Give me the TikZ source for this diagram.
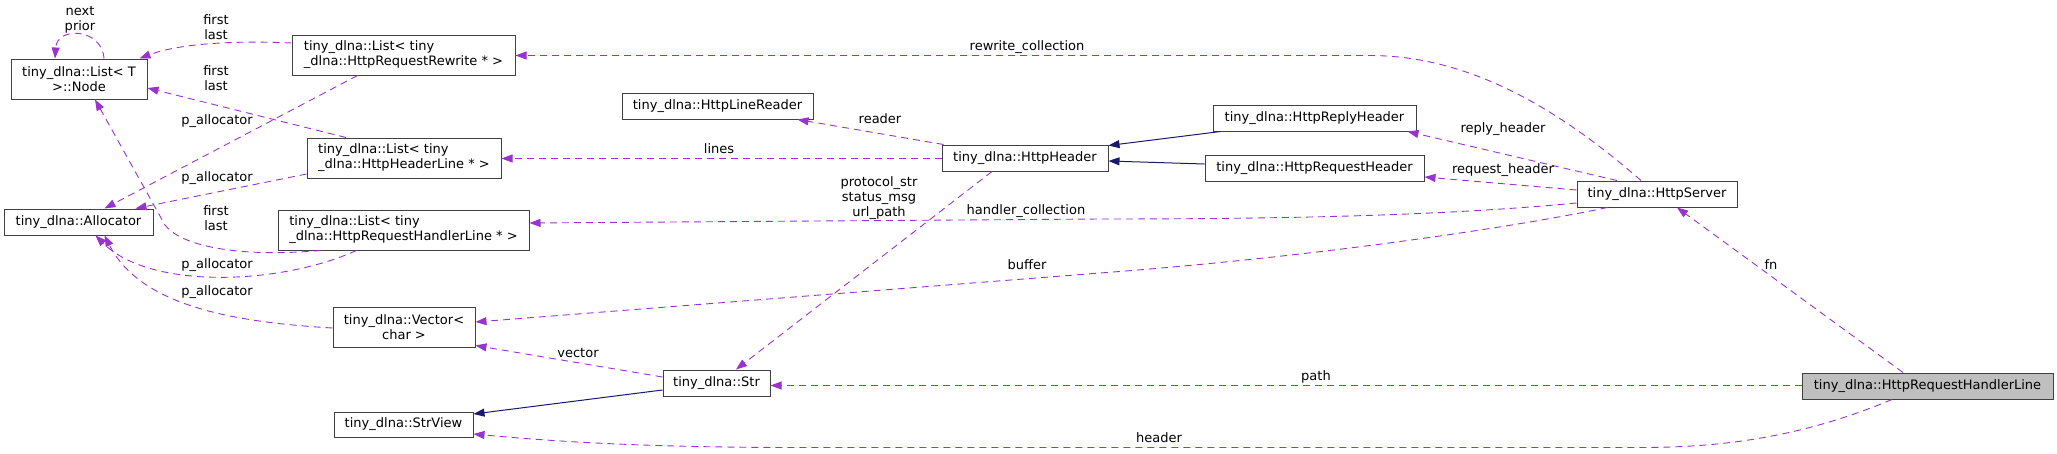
\documentclass[tikz,border=0pt]{standalone}
\usepackage{fontspec}
\setmainfont{DejaVu Sans}
\usetikzlibrary{arrows.meta,calc}
\definecolor{edgep}{HTML}{9A32CD}
\definecolor{inh}{HTML}{191970}
\definecolor{bord}{HTML}{404040}
\definecolor{mainfill}{HTML}{BFBFBF}
\tikzset{
  txt/.style={font=\fontsize{13}{15}\selectfont},
  box/.style={txt, draw=bord, line width=1pt, fill=white, inner sep=0pt, align=center},
  lbox/.style={box, align=left},
  rel/.style={draw=edgep, dash pattern=on 7pt off 5pt, line width=0.9pt, -{Triangle[length=11pt,width=8pt]}},
  inhe/.style={draw=inh, line width=1pt, -{Triangle[length=11pt,width=8pt]}},
  lab/.style={txt, inner sep=0pt, align=center}
}
\begin{document}
\begin{tikzpicture}[x=1pt,y=-1pt]
\useasboundingbox (0,0) rectangle (2057,453);
% nodes
\node[box, minimum width=136pt, minimum height=40pt] (lnode) at (79,79) {tiny\_dlna::List< T\\>::Node};
\node[lbox, minimum width=223pt, minimum height=40pt] (rewrite) at (403.5,55) {tiny\_dlna::List< tiny\\\_dlna::HttpRequestRewrite * >};
\node[lbox, minimum width=194pt, minimum height=40pt] (hline) at (404,158) {tiny\_dlna::List< tiny\\\_dlna::HttpHeaderLine * >};
\node[box, minimum width=149pt, minimum height=26pt] (alloc) at (78.5,222) {tiny\_dlna::Allocator};
\node[lbox, minimum width=251pt, minimum height=40pt] (hlist) at (403.5,230) {tiny\_dlna::List< tiny\\\_dlna::HttpRequestHandlerLine * >};
\node[box, minimum width=142pt, minimum height=40pt] (vector) at (404,327) {tiny\_dlna::Vector<\\char >};
\node[box, minimum width=139pt, minimum height=25pt] (strview) at (403.5,424.5) {tiny\_dlna::StrView};
\node[box, minimum width=107pt, minimum height=26pt] (str) at (716.5,383) {tiny\_dlna::Str};
\node[box, minimum width=191pt, minimum height=26pt] (lreader) at (717.5,106) {tiny\_dlna::HttpLineReader};
\node[box, minimum width=166pt, minimum height=26pt] (hheader) at (1025,158) {tiny\_dlna::HttpHeader};
\node[box, minimum width=203pt, minimum height=26pt] (reply) at (1314.5,118) {tiny\_dlna::HttpReplyHeader};
\node[box, minimum width=219pt, minimum height=26pt] (request) at (1314.5,168) {tiny\_dlna::HttpRequestHeader};
\node[box, minimum width=160pt, minimum height=26pt] (server) at (1657,194) {tiny\_dlna::HttpServer};
\node[box, fill=mainfill, minimum width=251pt, minimum height=26pt] (handler) at (1927.5,386) {tiny\_dlna::HttpRequestHandlerLine};

% self loop
\draw[rel] ($(lnode.north)+(25,0)$) .. controls (102,28) and (57,26) .. ($(lnode.north)+(-24,0)$);
\node[lab] (lbnext) at (80,19.5) {next\\prior};
% first/last from rewrite
\draw[rel] ($(rewrite.west)+(0,-12)$) .. controls (225,40) and (175,45) .. ($(lnode.north east)+(-8,0)$);
\node[lab] (lbfl1) at (216,27.5) {first\\last};
% first/last from header line list
\draw[rel] ($(hline.north)+(-58,0)$) -- ($(lnode.east)+(0,9)$);
\node[lab] (lbfl2) at (216,78) {first\\last};
% p_allocator from rewrite
\draw[rel] ($(rewrite.south)+(-46,0)$) -- ($(alloc.north)+(26,0)$);
\node[lab] (lbpa1) at (217,121) {p\_allocator};
% p_allocator from header line list
\draw[rel] ($(hline.west)+(0,16)$) -- ($(alloc.north)+(57,0)$);
\node[lab] (lbpa2) at (217,178) {p\_allocator};
% first/last from handler list
\draw[rel] ($(hlist.south west)+(43,0)$) .. controls (235,258) and (180,245) .. (165,225) -- ($(lnode.south)+(16,0)$);
\node[lab] (lbfl3) at (216,218) {first\\last};
% p_allocator from handler list
\draw[rel] ($(hlist.south west)+(79,0)$) .. controls (280,285) and (150,290) .. ($(alloc.south)+(17,0)$);
\node[lab] (lbpa3) at (217,265) {p\_allocator};
% p_allocator from vector
\draw[rel] ($(vector.west)+(0,1)$) .. controls (230,322) and (140,305) .. ($(alloc.south)+(26,0)$);
\node[lab] (lbpa4) at (217,292) {p\_allocator};

% rewrite_collection
\draw[rel] ($(server.north)+(-16,0)$) .. controls (1560,110) and (1470,55) .. (1368,55.5) -- ($(rewrite.east)+(0,0.5)$);
\node[lab] (lbrw) at (1027,47) {rewrite\_collection};
% lines
\draw[rel] ($(hheader.west)+(0,0.5)$) -- ($(hline.east)+(0,0.5)$);
\node[lab] (lblines) at (719,149) {lines};
% reader
\draw[rel] ($(hheader.north west)+(2,0)$) -- ($(lreader.south east)+(-16,0)$);
\node[lab] (lbreader) at (880,119) {reader};
% handler_collection
\draw[rel] ($(server.west)+(0,9)$) .. controls (1450,215) and (1300,219) .. (1100,219) -- ($(hlist.east)+(0,-7)$);
\node[lab] (lbhc) at (1026,211) {handler\_collection};
% buffer
\draw[rel] ($(server.south west)+(31,0)$) .. controls (1500,230) and (1300,258) .. (1100,273) -- ($(vector.east)+(0,-5)$);
\node[lab] (lbbuf) at (1027,265) {buffer};
% protocol_str etc
\draw[rel] ($(hheader.south)+(-33,0)$) -- ($(str.north)+(19.5,0)$);
\node[lab] (lbps) at (879,198) {protocol\_str\\status\_msg\\url\_path};
% vector
\draw[rel] ($(str.west)+(0,-6)$) -- ($(vector.south east)+(0,-2)$);
\node[lab] (lbvec) at (578,353) {vector};
% inheritance Str -> StrView
\draw[inhe] ($(str.west)+(0,7)$) -- ($(strview.east)+(0,-10.5)$);
% path
\draw[rel] ($(handler.west)+(0,-0.5)$) -- ($(str.east)+(0,2.5)$);
\node[lab] (lbpath) at (1316,377) {path};
% header
\draw[rel] ($(handler.south)+(-35.5,0)$) .. controls (1800,438) and (1720,447.5) .. (1640,447.5) -- (800,447.5) .. controls (650,447.5) and (560,442) .. ($(strview.east)+(0,9.5)$);
\node[lab] (lbheader) at (1159,438) {header};
% fn
\draw[rel] ($(handler.north)+(-24.5,0)$) -- ($(server.south)+(20,0)$);
\node[lab] (lbfn) at (1771,265) {fn};
% reply_header
\draw[rel] ($(server.north)+(-40,0)$) -- ($(reply.south east)+(-9,0)$);
\node[lab] (lbrh) at (1503,129) {reply\_header};
% request_header
\draw[rel] ($(server.west)+(0,-4)$) -- ($(request.east)+(0,9)$);
\node[lab] (lbrq) at (1503,170) {request\_header};
% inheritance
\draw[inhe] ($(reply.south west)+(8,0)$) -- ($(hheader.north east)+(0,1)$);
\draw[inhe] ($(request.west)+(0,-4)$) -- ($(hheader.east)+(0,3)$);
\end{tikzpicture}
\end{document}
